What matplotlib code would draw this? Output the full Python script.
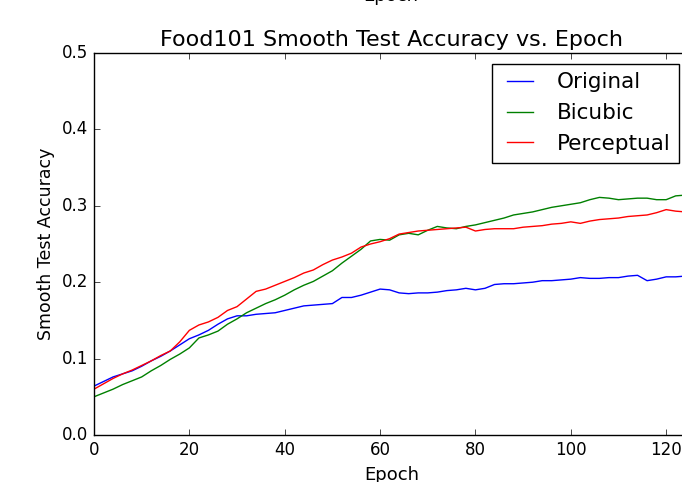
import numpy as np
import matplotlib as mpl
mpl.use("Agg")
import matplotlib.pyplot as plt

plt.style.use("classic")
plt.rcParams.update({
    "font.family": "DejaVu Sans",
    "figure.facecolor": "white",
    "savefig.facecolor": "white",
})

# data
epochs = list(range(0, 126, 2))

original = [0.064, 0.070, 0.076, 0.080, 0.084, 0.090, 0.097, 0.103, 0.110, 0.118,
            0.126, 0.131, 0.137, 0.145, 0.152, 0.156, 0.156, 0.158, 0.159, 0.160,
            0.163, 0.166, 0.169, 0.170, 0.171, 0.172, 0.180, 0.180, 0.183, 0.187,
            0.191, 0.190, 0.186, 0.185, 0.186, 0.186, 0.187, 0.189, 0.190, 0.192,
            0.190, 0.192, 0.197, 0.198, 0.198, 0.199, 0.200, 0.202, 0.202, 0.203,
            0.204, 0.206, 0.205, 0.205, 0.206, 0.206, 0.208, 0.209, 0.202, 0.204,
            0.207, 0.207, 0.208]

bicubic = [0.050, 0.055, 0.060, 0.066, 0.071, 0.076, 0.084, 0.091, 0.099, 0.106,
           0.114, 0.127, 0.131, 0.136, 0.145, 0.152, 0.160, 0.166, 0.172, 0.177,
           0.183, 0.190, 0.196, 0.201, 0.208, 0.215, 0.225, 0.234, 0.243, 0.254,
           0.256, 0.255, 0.262, 0.264, 0.262, 0.268, 0.273, 0.271, 0.270, 0.273,
           0.275, 0.278, 0.281, 0.284, 0.288, 0.290, 0.292, 0.295, 0.298, 0.300,
           0.302, 0.304, 0.308, 0.311, 0.310, 0.308, 0.309, 0.310, 0.310, 0.308,
           0.308, 0.313, 0.314]

perceptual = [0.060, 0.067, 0.074, 0.080, 0.085, 0.091, 0.097, 0.104, 0.110, 0.122,
              0.137, 0.144, 0.148, 0.154, 0.163, 0.168, 0.178, 0.188, 0.191, 0.196,
              0.201, 0.206, 0.212, 0.216, 0.223, 0.229, 0.233, 0.238, 0.246, 0.250,
              0.253, 0.257, 0.263, 0.265, 0.267, 0.268, 0.269, 0.270, 0.271, 0.272,
              0.267, 0.269, 0.270, 0.270, 0.270, 0.272, 0.273, 0.274, 0.276, 0.277,
              0.279, 0.277, 0.280, 0.282, 0.283, 0.284, 0.286, 0.287, 0.288, 0.291,
              0.295, 0.293, 0.292]

fig = plt.figure(figsize=(6.82, 4.82), dpi=100)
# axes run past the right edge, the reference is a cropped figure
ax = fig.add_axes([94/682, 47/482, 596/682, 382/482])

ax.plot(epochs, original, color="b", label="Original")
ax.plot(epochs, bicubic, color="g", label="Bicubic")
ax.plot(epochs, perceptual, color="r", label="Perceptual")

ax.set_xlim(0, 125)
ax.set_ylim(0, 0.5)
ax.set_xticks(np.arange(0, 121, 20))
ax.set_yticks(np.arange(0, 0.51, 0.1))
ax.set_title("Food101 Smooth Test Accuracy vs. Epoch", fontsize=16)
ax.set_xlabel("Epoch", fontsize=13)
ax.set_ylabel("Smooth Test Accuracy", fontsize=12.5)
ax.legend(loc="upper right", fontsize=15.5, handlelength=1.8)

# xlabel of the plot above, mostly cut off
fig.text(391/682, 1 - 1/482, "Epoch", ha="center", va="baseline", fontsize=13)

fig.savefig("out.png", dpi=100)
